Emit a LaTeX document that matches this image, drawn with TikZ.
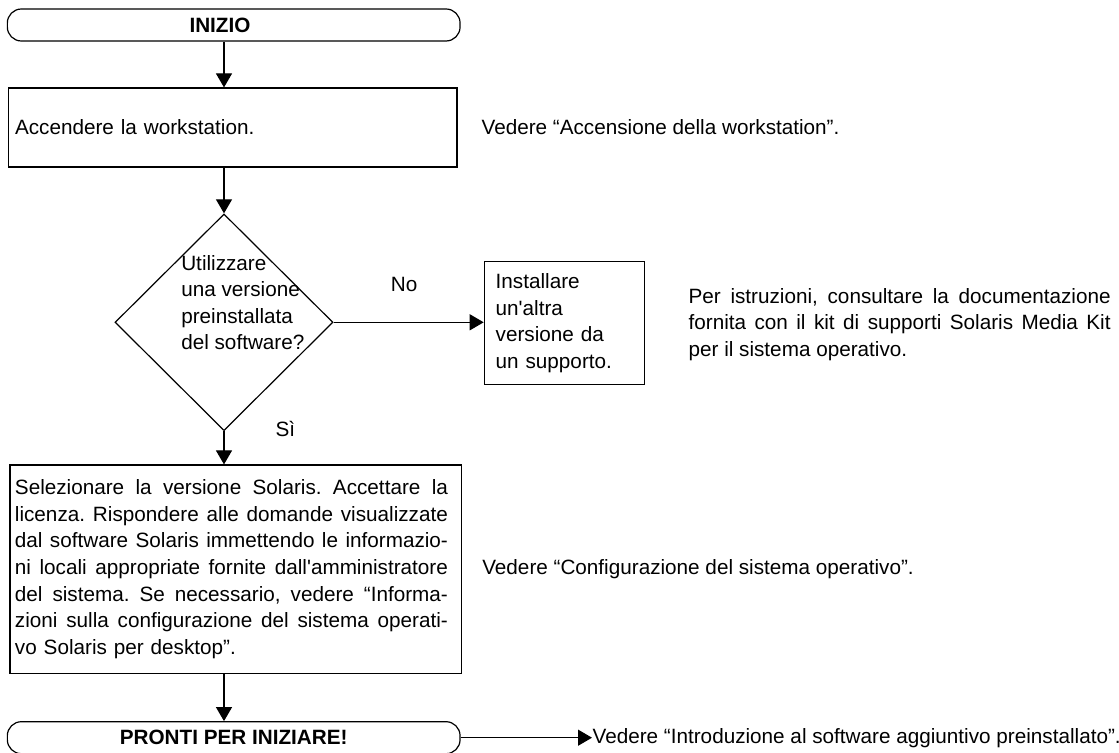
\documentclass[tikz,border=0pt]{standalone}
\usepackage{fontspec}
\newfontfamily\helv{Liberation Sans}
\usetikzlibrary{shapes.geometric, arrows.meta}
\newcommand\jl[1]{\makebox[216.5pt][s]{\spaceskip=.278em plus 1em\relax#1}}
\newcommand\pl[1]{\makebox[211pt][s]{\spaceskip=.278em plus 1em\relax#1}}

\begin{document}
\begin{tikzpicture}[x=0.5pt, y=-0.5pt, line width=0.6pt,
  font=\helv\fontsize{10.35}{13.3}\selectfont\frenchspacing,
  term/.style={draw, rounded corners=7pt, minimum width=226.35pt, minimum height=16pt, inner sep=0},
  box/.style={draw, align=left, inner ysep=0},
  txt/.style={inner sep=0, align=left},
  arr/.style={-{Triangle[length=7pt, width=8pt]}}]
\useasboundingbox (0,0) rectangle (1119,753);
\node[term, label={[xshift=-6.85pt]center:\bfseries INIZIO}] (start) at (233.7,25) {};
\node[box, minimum width=224.35pt, minimum height=39.5pt, text width=217.65pt, inner xsep=3.35pt] (accendi) at (232.7,127.5) {Accendere la workstation.};
\node[txt, anchor=west] (vedA) at (481,127.5) {Vedere “Accensione della workstation”.};
\node[draw, diamond, minimum width=109pt, minimum height=108.35pt, inner sep=0] (q) at (224,322.3) {};
\node[txt, anchor=west] (qtxt) at (180.7,302.7) {Utilizzare\\una versione\\preinstallata\\del software?};
\node[box, minimum width=80pt, minimum height=61.3pt, text width=68.6pt, inner xsep=5.7pt] (inst) at (564.3,323) {Installare\\un'altra\\versione da\\un supporto.};
\node[txt, anchor=west] (vedP) at (688,324.5) {\pl{Per istruzioni, consultare la documentazione}\\\pl{fornita con il kit di supporti Solaris Media Kit}\\per il sistema operativo.};
\node[box, minimum height=104.2pt, text width=220.85pt, inner xsep=2.5pt] (sel) at (235.8,569.2) {\jl{Selezionare la versione Solaris. Accettare la}\\\jl{licenza. Rispondere alle domande visualizzate}\\\jl{dal software Solaris immettendo le informazio-}\\\jl{ni locali appropriate fornite dall'amministratore}\\\jl{del sistema. Se necessario, vedere “Informa-}\\\jl{zioni sulla configurazione del sistema operati-}\\vo Solaris per desktop”.};
\node[txt, anchor=west] (vedC) at (481.7,569.2) {Vedere “Configurazione del sistema operativo”.};
\node[term, label={center:\bfseries PRONTI PER INIZIARE!}] (finish) at (233.7,737.7) {};
\node[txt, anchor=west] (vedI) at (592,737.7) {Vedere “Introduzione al software aggiuntivo preinstallato”.};
\draw[arr] (start.south -| q.north) -- (accendi.north -| q.north);
\draw[arr] (accendi.south -| q.north) -- (q.north);
\draw[arr] (q.east) -- (q.east -| inst.west) node[pos=.47, above=15pt, inner sep=0]{No};
\draw[arr] (q.south) -- (sel.north -| q.south) node[pos=0, right=25.5pt, yshift=1.3pt, inner sep=0]{Sì};
\draw[arr] (sel.south -| q.south) -- (finish.north -| q.south);
\draw[arr] (finish.east) -- (finish.east -| vedI.west);
\end{tikzpicture}
\end{document}
